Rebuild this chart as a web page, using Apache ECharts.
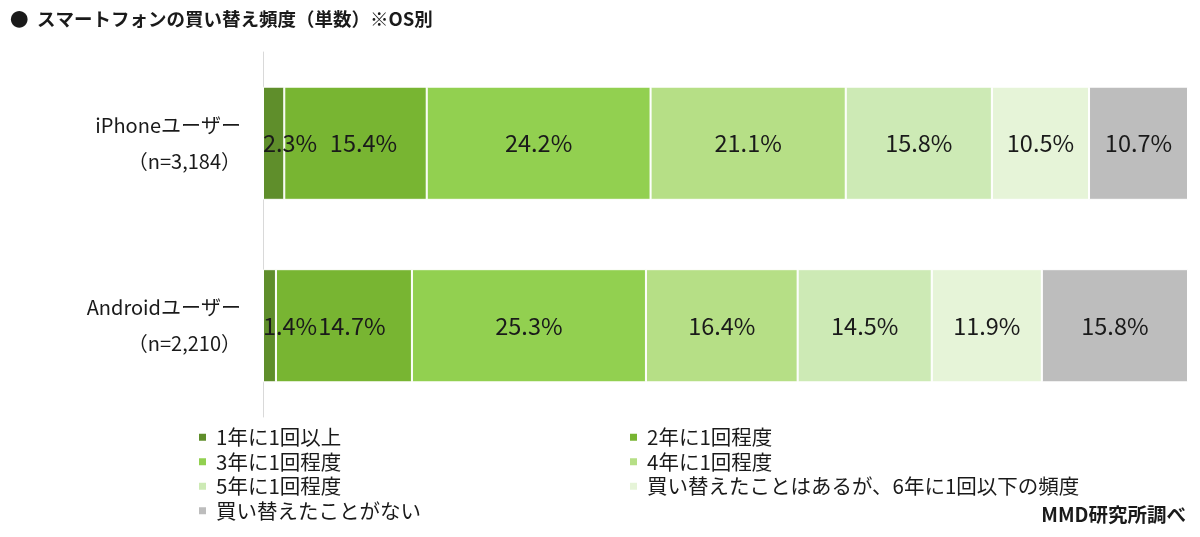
<!DOCTYPE html>
<html><head><meta charset="utf-8">
<script src="https://cdn.jsdelivr.net/npm/echarts@6/dist/echarts.min.js"></script>
<style>html,body{margin:0;padding:0;background:#fff;}#c{width:1200px;height:537px;}</style>
</head><body><div id="c"></div>
<script>
const categories = ['iPhoneユーザー\n（n=3,184）', 'Androidユーザー\n（n=2,210）'];
const seriesNames = ['1年に1回以上', '2年に1回程度', '3年に1回程度', '4年に1回程度', '5年に1回程度', '買い替えたことはあるが、6年に1回以下の頻度', '買い替えたことがない'];
const s1 = [2.3, 1.4];
const s2 = [15.4, 14.7];
const s3 = [24.2, 25.3];
const s4 = [21.1, 16.4];
const s5 = [15.8, 14.5];
const s6 = [10.5, 11.9];
const s7 = [10.7, 15.8];
const values = [s1, s2, s3, s4, s5, s6, s7];
const colors = ['#5f8e2b', '#78b532', '#92d050', '#b6df86', '#cdeab5', '#e6f4d8', '#bdbdbd'];
const FONT = '"Noto Sans CJK JP", "Noto Sans", sans-serif';

const chart = echarts.init(document.getElementById('c'));
const series = values.map((v, i) => ({
  name: seriesNames[i],
  type: 'bar',
  stack: 'total',
  data: v,
  barWidth: '62%',
  itemStyle: { color: colors[i], borderColor: '#ffffff', borderWidth: 1 },
  label: {
    show: true,
    position: i === 0 ? 'insideLeft' : 'inside',
    distance: 0,
    offset: i === 1 ? [8, 0] : [0, 0],
    formatter: p => p.value.toFixed(1) + '%',
    fontSize: 23.5,
    fontFamily: FONT,
    color: '#1a1a1a'
  },
  emphasis: { disabled: true }
}));

const legendCommon = {
  orient: 'vertical', top: 422, itemGap: 4,
  icon: 'rect', itemWidth: 9, itemHeight: 9, selectedMode: false,
  textStyle: { fontSize: 20.5, fontFamily: FONT, color: '#1a1a1a', lineHeight: 20.5, padding: [0, 0, 0, 4] }
};

chart.setOption({
  animation: false,
  grid: { left: 263, right: 12, top: 52, bottom: 120, containLabel: false },
  xAxis: { type: 'value', min: 0, max: 100, show: false },
  yAxis: {
    type: 'category', data: categories, inverse: true,
    axisLine: { show: true, lineStyle: { color: '#d9d9d9', width: 1 } },
    axisTick: { show: false },
    axisLabel: { fontSize: 20, fontFamily: FONT, color: '#1a1a1a', lineHeight: 36, margin: 22, align: 'right' }
  },
  legend: [
    Object.assign({}, legendCommon, { left: 192, data: [seriesNames[0], seriesNames[2], seriesNames[4], seriesNames[6]] }),
    Object.assign({}, legendCommon, { left: 623, data: [seriesNames[1], seriesNames[3], seriesNames[5]] })
  ],
  graphic: [
    { type: 'text', left: 10, top: 10, style: { text: '●  スマートフォンの買い替え頻度（単数）※OS別', font: 'bold 18.5px ' + FONT, fill: '#1a1a1a' } },
    { type: 'text', right: 14, top: 505, style: { text: 'MMD研究所調べ', font: 'bold 19.5px ' + FONT, fill: '#1a1a1a' } }
  ],
  series: series
});
</script></body></html>
